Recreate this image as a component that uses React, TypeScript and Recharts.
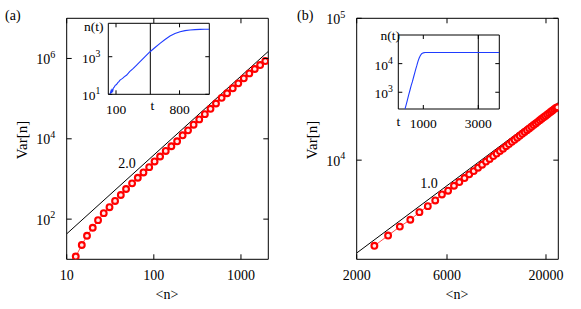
import React from 'react';
import { ComposedChart, Line, XAxis, YAxis, ReferenceArea, ReferenceLine } from 'recharts';

const FONT = 'Liberation Serif, DejaVu Serif, serif';

// ---------- Panel (a) ----------
const meanA = [12.7, 14.9, 17.1, 19.9, 22.9, 26.6, 31.0, 35.9, 41.8, 48.0, 56.3, 65.5, 76.0, 88.5, 102, 118, 137, 159, 185, 214, 247, 286, 332, 385, 447, 517, 600, 693, 805, 932, 1078, 1247, 1440, 1660, 1905];
const varA = [11.7, 22.7, 38.6, 61, 94.4, 141, 198, 284, 399, 562, 778, 1072, 1455, 1971, 2727, 3622, 4990, 6520, 8670, 12210, 16220, 22460, 30400, 41100, 55900, 75600, 104700, 136100, 180900, 240400, 320000, 425300, 546700, 686500, 862000];
const guideMeanA = [10, 2060];
const guideVarA = [43, 1.5e6];
const xTicksA = [10, 100, 1000];
const yTicksA = [1e2, 1e4, 1e6];

// ---------- Panel (b) ----------
const meanB = [2480, 2930, 3380, 3840, 4290, 4750, 5200, 5640, 6080, 6530, 6970, 7420, 7860, 8300, 8750, 9190, 9640, 10080, 10530, 10970, 11420, 11860, 12310, 12750, 13200, 13640, 14090, 14530, 14980, 15420, 15870, 16310, 16760, 17200, 17650, 18090, 18540, 18980, 19430, 19870, 20320, 20760, 21210, 21650, 22100, 22540, 22980];
const varB = [2490, 2940, 3400, 3800, 4300, 4740, 5200, 5730, 6090, 6600, 7010, 7480, 7940, 8370, 8850, 9290, 9770, 10200, 10680, 11130, 11600, 12050, 12530, 12980, 13470, 13910, 14400, 14850, 15340, 15790, 16280, 16730, 17210, 17680, 18160, 18620, 19100, 19560, 20050, 20510, 21000, 21470, 21950, 22420, 22900, 23350, 23600];
const guideMeanB = [2000, 23230];
const guideVarB = [2215, 25440];
const xTicksB = [2000, 6000, 20000];
const yTicksB = [1e4, 1e5];

// ---------- Insets ----------
const timeA = [34, 40, 46, 52, 58, 64, 70, 80, 92, 105, 120, 132, 144, 160, 175, 190, 218, 250, 291, 330, 365, 420, 475, 530, 585, 640, 695, 750, 806, 860, 916, 970, 1026, 1080, 1128];
const popA = [10, 13, 16, 12, 17, 15, 21, 24, 30, 33, 42, 47, 57, 64, 72, 85, 106, 160, 242, 370, 542, 1000, 1845, 3100, 5160, 8200, 12600, 17000, 21400, 24500, 26300, 27600, 28600, 28800, 28800];
const insetXTicksA = [100, 800];
const insetYTicksA = [10, 1000];
const markTimeA = 478;

const timeB = [335, 380, 420, 470, 516, 560, 600, 650, 698, 730, 760, 790, 818, 850, 880, 910, 942, 970, 1000, 1062, 1150, 1300, 1500, 1750, 2000, 2250, 2500, 2750, 3000, 3250, 3500, 3764];
const popB = [262, 380, 531, 820, 1200, 1740, 2300, 3480, 5130, 6700, 8300, 10600, 13000, 15700, 18200, 20300, 22100, 23200, 23800, 24400, 24500, 24600, 24450, 24550, 24600, 24450, 24500, 24600, 24500, 24550, 24450, 24500];
const insetXTicksB = [1000, 3000];
const insetYTicksB = [1000, 10000];
const markTimeB = 3000;

const zip = (xs: number[], ys: number[]) => xs.map((x, i) => ({ x, y: ys[i] }));

type Box = { L: number; R: number; T: number; B: number };

const fontStyle = { fontFamily: FONT } as const;

const makeXTick = (box: Box, len: number, fs: number, dy: number) => (props: any) => {
  const { x, payload } = props;
  return (
    <g>
      <line x1={x} x2={x} y1={box.B} y2={box.B - len} stroke="#000" strokeWidth={1} />
      <line x1={x} x2={x} y1={box.T} y2={box.T + len} stroke="#000" strokeWidth={1} />
      <text x={x} y={box.B + dy} textAnchor="middle" fontSize={fs} style={fontStyle} fill="#000">
        {String(payload.value)}
      </text>
    </g>
  );
};

const makeYTick = (box: Box, len: number, fs: number, gap: number, dy: number) => (props: any) => {
  const { y, payload } = props;
  const exp = Math.round(Math.log10(payload.value));
  return (
    <g>
      <line x1={box.L} x2={box.L + len} y1={y} y2={y} stroke="#000" strokeWidth={1} />
      <line x1={box.R - len} x2={box.R} y1={y} y2={y} stroke="#000" strokeWidth={1} />
      <text x={box.L - gap} y={y + dy} textAnchor="end" fontSize={fs} style={fontStyle} fill="#000">
        10
        <tspan dy={-fs * 0.45} fontSize={fs * 0.72}>
          {exp}
        </tspan>
      </text>
    </g>
  );
};

type MainProps = {
  width: number;
  height: number;
  box: Box;
  xDomain: [number, number];
  yDomain: [number, number];
  xTicks: number[];
  yTicks: number[];
  mean: number[];
  variance: number[];
  gx: number[];
  gy: number[];
};

function MainPanel(p: MainProps) {
  const { width, height, box } = p;
  return (
    <ComposedChart
      width={width}
      height={height}
      margin={{ top: box.T, right: width - box.R, bottom: 0, left: 0 }}
    >
      <XAxis
        dataKey="x"
        type="number"
        scale="log"
        domain={p.xDomain}
        allowDataOverflow
        ticks={p.xTicks}
        interval={0}
        tickSize={0}
        tickMargin={0}
        axisLine={false}
        tickLine={false}
        height={height - box.B}
        tick={makeXTick(box, 5, 14, 21)}
      />
      <YAxis
        dataKey="y"
        type="number"
        scale="log"
        domain={p.yDomain}
        allowDataOverflow
        ticks={p.yTicks}
        interval={0}
        tickSize={0}
        tickMargin={0}
        axisLine={false}
        tickLine={false}
        width={box.L}
        tick={makeYTick(box, 5, 14, 11.5, 5.5)}
      />
      <ReferenceArea
        x1={p.xDomain[0]}
        x2={p.xDomain[1]}
        y1={p.yDomain[0]}
        y2={p.yDomain[1]}
        fill="none"
        stroke="#000"
        strokeWidth={1}
        ifOverflow="visible"
      />
      <Line
        data={zip(p.gx, p.gy)}
        dataKey="y"
        stroke="#000"
        strokeWidth={1}
        dot={false}
        isAnimationActive={false}
      />
      <Line
        data={zip(p.mean, p.variance)}
        dataKey="y"
        stroke="#ff2020"
        strokeWidth={0.8}
        dot={{ r: 2.9, stroke: '#ff0000', strokeWidth: 2.1, fill: '#ffe8e8' }}
        isAnimationActive={false}
      />
    </ComposedChart>
  );
}

type InsetProps = {
  width: number;
  height: number;
  box: Box;
  xDomain: [number, number];
  yDomain: [number, number];
  xTicks: number[];
  yTicks: number[];
  t: number[];
  n: number[];
  mark: number;
  xdy: number;
  gap: number;
};

function Inset(p: InsetProps) {
  const { width, height, box } = p;
  return (
    <ComposedChart
      width={width}
      height={height}
      margin={{ top: box.T, right: width - box.R, bottom: 0, left: 0 }}
    >
      <XAxis
        dataKey="x"
        type="number"
        domain={p.xDomain}
        allowDataOverflow
        ticks={p.xTicks}
        interval={0}
        tickSize={0}
        tickMargin={0}
        axisLine={false}
        tickLine={false}
        height={height - box.B}
        tick={makeXTick(box, 4, 13.5, p.xdy)}
      />
      <YAxis
        dataKey="y"
        type="number"
        scale="log"
        domain={p.yDomain}
        allowDataOverflow
        ticks={p.yTicks}
        interval={0}
        tickSize={0}
        tickMargin={0}
        axisLine={false}
        tickLine={false}
        width={box.L}
        tick={makeYTick(box, 4, 13.5, p.gap, 6)}
      />
      <ReferenceArea
        x1={p.xDomain[0]}
        x2={p.xDomain[1]}
        y1={p.yDomain[0]}
        y2={p.yDomain[1]}
        fill="#ffffff"
        fillOpacity={1}
        stroke="#000"
        strokeWidth={1}
        ifOverflow="visible"
      />
      <ReferenceLine x={p.mark} stroke="#000" strokeWidth={1} />
      <Line
        data={zip(p.t, p.n)}
        dataKey="y"
        stroke="#1f3cff"
        strokeWidth={1.1}
        dot={false}
        isAnimationActive={false}
      />
    </ComposedChart>
  );
}

const txt = { style: fontStyle, fill: '#000' } as const;

export default function App() {
  const mainBox: Box = { L: 66.7, R: 268.3, T: 18.3, B: 259.3 };
  const insetBoxA: Box = { L: 48.3, R: 149.3, T: 13.3, B: 84.3 };
  const insetBoxB: Box = { L: 48.3, R: 149.3, T: 15, B: 89 };
  return (
    <div style={{ position: 'absolute', left: 0, top: 0, width: 581, height: 309, background: '#fff' }}>
      <div style={{ position: 'absolute', left: 0, top: 0 }}>
        <MainPanel
          width={290}
          height={309}
          box={mainBox}
          xDomain={[10, 2060]}
          yDomain={[10, 1e7]}
          xTicks={xTicksA}
          yTicks={yTicksA}
          mean={meanA}
          variance={varA}
          gx={guideMeanA}
          gy={guideVarA}
        />
      </div>
      <div style={{ position: 'absolute', left: 290, top: 0 }}>
        <MainPanel
          width={291}
          height={309}
          box={mainBox}
          xDomain={[2000, 23230]}
          yDomain={[2000, 1e5]}
          xTicks={xTicksB}
          yTicks={yTicksB}
          mean={meanB}
          variance={varB}
          gx={guideMeanB}
          gy={guideVarB}
        />
      </div>
      <div style={{ position: 'absolute', left: 60, top: 10 }}>
        <Inset
          width={155}
          height={112}
          box={insetBoxA}
          xDomain={[15, 1128]}
          yDomain={[10, 6e4]}
          xTicks={insetXTicksA}
          yTicks={insetYTicksA}
          t={timeA}
          n={popA}
          mark={markTimeA}
          xdy={20}
          gap={8}
        />
      </div>
      <div style={{ position: 'absolute', left: 350, top: 20 }}>
        <Inset
          width={155}
          height={112}
          box={insetBoxB}
          xDomain={[90, 3764]}
          yDomain={[260, 1e5]}
          xTicks={insetXTicksB}
          yTicks={insetYTicksB}
          t={timeB}
          n={popB}
          mark={markTimeB}
          xdy={19}
          gap={5.5}
        />
      </div>
      <svg
        width={581}
        height={309}
        style={{ position: 'absolute', left: 0, top: 0, pointerEvents: 'none' }}
      >
        <text x={5} y={19.5} fontSize={14} {...txt}>(a)</text>
        <text x={297} y={19.5} fontSize={14} {...txt}>(b)</text>
        <text x={26.5} y={140} fontSize={15} textAnchor="middle" transform="rotate(-90 26.5 140)" {...txt}>Var[n]</text>
        <text x={316.5} y={140} fontSize={15} textAnchor="middle" transform="rotate(-90 316.5 140)" {...txt}>Var[n]</text>
        <text x={167} y={299} fontSize={14} textAnchor="middle" {...txt}>{'<n>'}</text>
        <text x={457} y={299} fontSize={14} textAnchor="middle" {...txt}>{'<n>'}</text>
        <text x={127} y={168} fontSize={14} textAnchor="middle" {...txt}>2.0</text>
        <text x={429} y={187.5} fontSize={14} textAnchor="middle" {...txt}>1.0</text>
        <text x={103.5} y={31} fontSize={13.5} textAnchor="end" {...txt}>n(t)</text>
        <text x={400} y={39.5} fontSize={13.5} textAnchor="end" {...txt}>n(t)</text>
        <text x={152.5} y={109.5} fontSize={13.5} textAnchor="middle" {...txt}>t</text>
        <text x={398.3} y={125.5} fontSize={13.5} textAnchor="middle" {...txt}>t</text>
      </svg>
    </div>
  );
}
